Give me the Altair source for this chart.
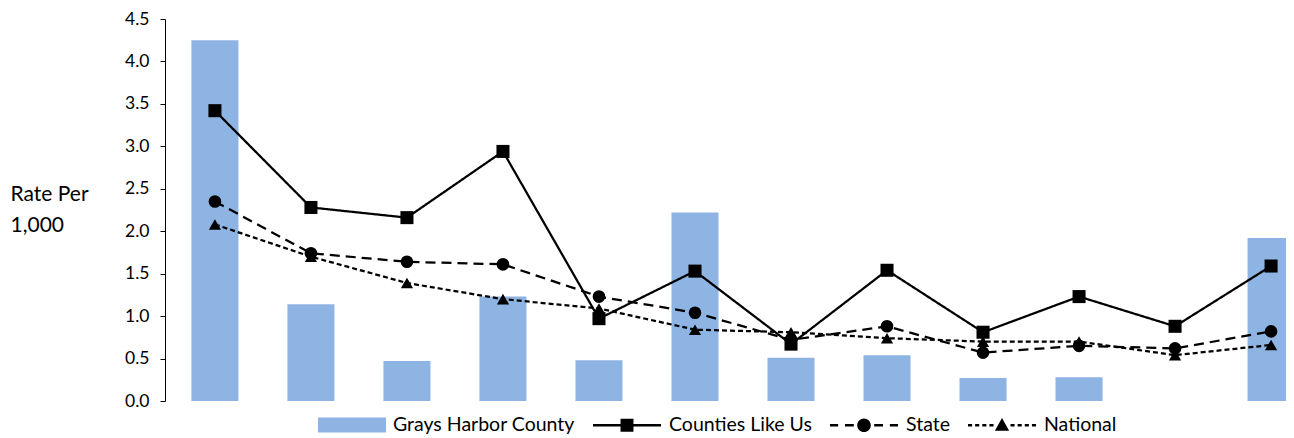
import altair as alt
import pandas as pd

categories = list(range(1, 13))
grays = [4.25, 1.14, 0.47, 1.23, 0.48, 2.22, 0.51, 0.54, 0.27, 0.28, None, 1.92]
counties = [3.42, 2.28, 2.16, 2.94, 0.97, 1.53, 0.67, 1.54, 0.81, 1.23, 0.88, 1.59]
state = [2.35, 1.74, 1.64, 1.61, 1.23, 1.04, 0.72, 0.88, 0.57, 0.65, 0.62, 0.82]
national = [2.08, 1.70, 1.39, 1.20, 1.09, 0.84, 0.81, 0.74, 0.70, 0.70, 0.54, 0.66]
y_ticks = [0, 0.5, 1.0, 1.5, 2.0, 2.5, 3.0, 3.5, 4.0, 4.5]

bar_name = "Grays Harbor County"
line_names = ["Counties Like Us", "State", "National"]

FONT = "Lato"
BLUE = "#8EB4E3"

bar_df = pd.DataFrame({"cat": categories, "v": grays, "series": bar_name}).dropna()
line_df = pd.concat([
    pd.DataFrame({"cat": categories, "v": vals, "series": name})
    for name, vals in zip(line_names, [counties, state, national])
])

x_enc = alt.X("cat:O", axis=None,
              scale=alt.Scale(range=[0, 1156], paddingInner=0.51, paddingOuter=0.275))
y_enc = alt.Y("v:Q",
              scale=alt.Scale(domain=[0, 4.5], nice=False, zero=True),
              axis=alt.Axis(values=y_ticks, format=".1f", grid=False,
                            domainColor="black", tickColor="black", tickSize=5,
                            labelFont=FONT, labelFontSize=17.5, labelColor="black",
                            labelPadding=11,
                            title=["Rate Per", "1,000"], titleAngle=0, titleAlign="left",
                            titleBaseline="alphabetic", titleX=-155, titleY=181,
                            titleLineHeight=31, titleFont=FONT, titleFontSize=21,
                            titleFontWeight="normal", titleColor="black"))

bars = alt.Chart(bar_df).mark_bar(clip=True).encode(
    x=x_enc, y=y_enc,
    color=alt.Color("series:N",
                    scale=alt.Scale(domain=[bar_name], range=[BLUE]),
                    legend=alt.Legend(orient="none", legendX=153, legendY=372,
                                      direction="horizontal", title=None,
                                      symbolType="M-1,-0.22H1V0.22H-1Z",
                                      symbolSize=4624, symbolStrokeWidth=0,
                                      labelOffset=7, labelLimit=400,
                                      labelFont=FONT, labelFontSize=19.5,
                                      labelColor="black")),
)

dash_scale = alt.Scale(domain=line_names, range=[[1, 0], [10, 6], [5, 3]])
lines = alt.Chart(line_df).mark_line(color="black", strokeWidth=2.25).encode(
    x=x_enc, y="v:Q",
    strokeDash=alt.StrokeDash("series:N", scale=dash_scale, legend=None),
    detail="series:N",
)

points = alt.Chart(line_df).mark_point(filled=True, color="black", opacity=1).encode(
    x=x_enc, y="v:Q",
    shape=alt.Shape("series:N",
                    scale=alt.Scale(domain=line_names,
                                    range=["square", "circle", "triangle-up"]),
                    legend=None),
    size=alt.Size("series:N",
                  scale=alt.Scale(domain=line_names, range=[170, 150, 150]),
                  legend=None),
)


def seg(a, b, h=0.035):
    return f"M{a},{-h}H{b}V{h}H{a}Z"


legend_paths = [
    seg(-1, 1) + "M-0.19,-0.19H0.19V0.19H-0.19Z",
    seg(-1, -0.76) + seg(-0.56, -0.3) + seg(0.3, 0.56) + seg(0.76, 1)
    + "M0.2,0A0.2,0.2,0,1,1,-0.2,0A0.2,0.2,0,1,1,0.2,0Z",
    seg(-1, -0.88) + seg(-0.79, -0.67) + seg(-0.58, -0.46) + seg(-0.37, -0.25)
    + seg(0.25, 0.37) + seg(0.46, 0.58) + seg(0.67, 0.79) + seg(0.88, 1)
    + "M0,-0.21L0.21,0.16L-0.21,0.16Z",
]

legend_layer = alt.Chart(line_df).mark_point(
    filled=True, color="black", opacity=1
).encode(
    x=x_enc, y="v:Q",
    shape=alt.Shape("series:N",
                    scale=alt.Scale(domain=line_names, range=legend_paths),
                    legend=alt.Legend(orient="none", legendX=428, legendY=372,
                                      direction="horizontal", title=None,
                                      symbolSize=4624, symbolStrokeWidth=0,
                                      symbolFillColor="black",
                                      labelOffset=8, columnPadding=18,
                                      labelLimit=400,
                                      labelFont=FONT, labelFontSize=19.5,
                                      labelColor="black")),
).transform_filter(alt.datum.v < 0)

chart = alt.layer(bars, lines, points, legend_layer).resolve_scale(
    shape="independent", size="independent"
).properties(
    width=1121, height=382,
    autosize=alt.AutoSizeParams(type="none"),
    padding={"left": 157, "top": 11, "right": 0, "bottom": 37},
).configure_view(stroke=None)

chart.save("out.html", embed_options={"renderer": "svg", "actions": False})
